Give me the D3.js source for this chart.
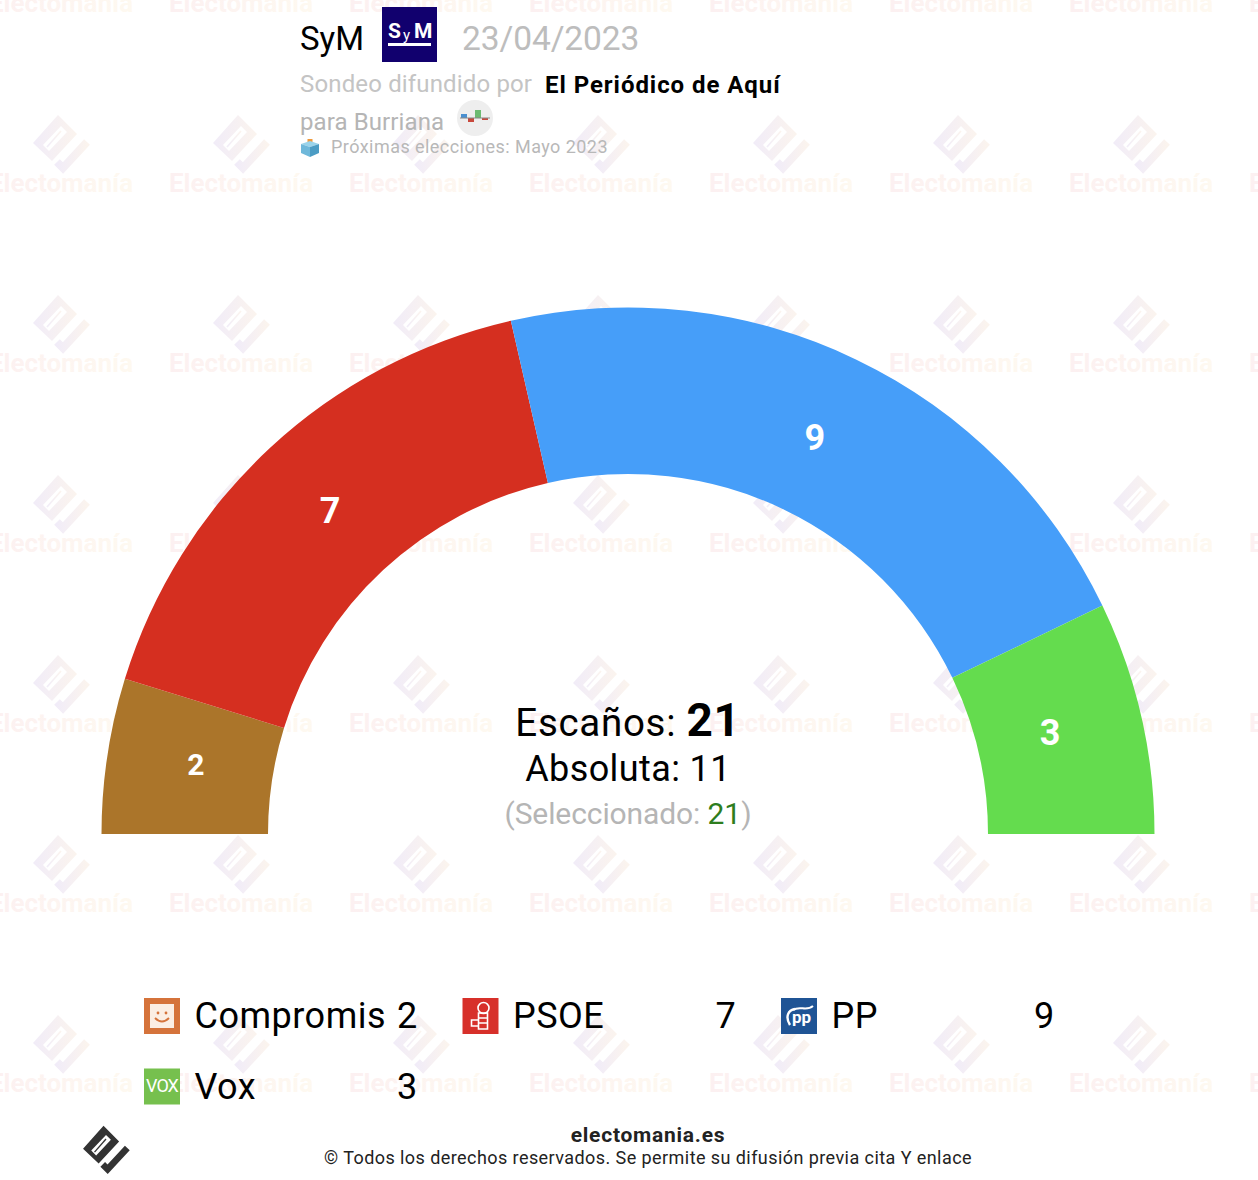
<!DOCTYPE html>
<html>
<head>
<meta charset="utf-8">
<script src="https://cdn.jsdelivr.net/npm/d3@7"></script>
<style>
  html, body { margin: 0; padding: 0; background: #fff; }
  svg { display: block; }
  text { font-family: Roboto, sans-serif; }
</style>
</head>
<body>
<svg id="chart"></svg>
<script>
const parties = ["Compromis", "PSOE", "PP", "Vox"];
const seats = [2, 7, 9, 3];
const arcColors = ["#ab752a", "#d52f20", "#469ef9", "#64dc4e"];
const logoColors = ["#d5733b", "#d7302a", "#1f5495", "#76c04e"];

const width = 1258;
const height = 1180;
const cx = 628;
const cy = 834;

const svg = d3.select("#chart").attr("width", width).attr("height", height);
const defs = svg.append("defs");

// watermark gradients
const addGradient = (id, from, to) => {
    const g = defs.append("linearGradient").attr("id", id);
    g.append("stop").attr("offset", "0%").attr("stop-color", from);
    g.append("stop").attr("offset", "100%").attr("stop-color", to);
};
addGradient("wmIcon", "#f1ecf8", "#fbf4ee");
addGradient("wmText", "#fcf0f1", "#fef9f0");

// the electomania mark, centred on 0,0
const drawMark = (g, fill) => {
    g.append("path")
        .attr("fill-rule", "evenodd")
        .attr("fill", fill)
        .attr("d", "M-28,1 L-3,-27 L16,-8 L-9,19 Z M-18,3 L0,-16 L6,-10 L-12,9 Z");
    g.append("path")
        .attr("fill", "none")
        .attr("stroke", fill)
        .attr("stroke-width", 1.6)
        .attr("d", "M-14,5 L0,-11");
    g.append("path")
        .attr("fill", "none")
        .attr("stroke", fill)
        .attr("stroke-width", 8)
        .attr("d", "M-4,20 L2,26 L26,0");
};

// watermark tiles
const wmCols = d3.range(61, 1322, 180);
const wmRows = d3.range(3, 1084, 180);
const wm = svg.append("g");
wmRows.forEach(y => wmCols.forEach(x => {
    const tile = wm.append("g").attr("transform", `translate(${x},${y})`);
    drawMark(tile.append("g").attr("transform", "translate(0,-41)"), "url(#wmIcon)");
    tile.append("text")
        .attr("x", 0).attr("y", 8.5)
        .attr("text-anchor", "middle")
        .attr("font-size", 26)
        .attr("font-weight", 700)
        .attr("fill", "url(#wmText)")
        .text("Electomanía");
}));

// gauge
const pie = d3.pie().sort(null).startAngle(-Math.PI / 2).endAngle(Math.PI / 2);
const arc = d3.arc().innerRadius(360).outerRadius(526.5);
const labelArc = d3.arc().innerRadius(435).outerRadius(435);
const gauge = svg.append("g").attr("transform", `translate(${cx},${cy})`);
const slices = pie(seats);

gauge.selectAll("path")
    .data(slices)
    .enter()
    .append("path")
    .attr("d", arc)
    .attr("fill", (d, i) => arcColors[i]);

gauge.selectAll("text")
    .data(slices)
    .enter()
    .append("text")
    .attr("transform", d => `translate(${labelArc.centroid(d)})`)
    .attr("text-anchor", "middle")
    .attr("dx", -2)
    .attr("dy", "0.21em")
    .attr("font-weight", 700)
    .attr("font-size", d => d.data < 3 ? 30 : 36)
    .attr("fill", "#fff")
    .text(d => d.data);

// centre text
const centre1 = svg.append("text").attr("x", cx).attr("y", 735.5).attr("text-anchor", "middle")
    .attr("font-size", 38.5).attr("letter-spacing", 0.7).attr("fill", "#000");
centre1.append("tspan").text("Escaños: ");
centre1.append("tspan").attr("font-weight", 700).attr("font-size", 46).text(d3.sum(seats));

svg.append("text").attr("x", cx).attr("y", 780.5).attr("text-anchor", "middle")
    .attr("font-size", 36).attr("letter-spacing", 0.4).attr("fill", "#000")
    .text("Absoluta: 11");

const centre3 = svg.append("text").attr("x", cx).attr("y", 824).attr("text-anchor", "middle")
    .attr("font-size", 30).attr("letter-spacing", -0.1).attr("fill", "#b5b5b5");
centre3.append("tspan").text("(Seleccionado: ");
centre3.append("tspan").attr("fill", "#2e7d1e").text(d3.sum(seats));
centre3.append("tspan").text(")");

// header
svg.append("text").attr("x", 300).attr("y", 49.5).attr("font-size", 33).attr("fill", "#000").text("SyM");

const sym = svg.append("g").attr("transform", "translate(382,7)");
sym.append("rect").attr("width", 55).attr("height", 55).attr("fill", "#11006e");
sym.append("text").attr("x", 6).attr("y", 31).attr("font-size", 21).attr("font-weight", 700).attr("fill", "#fff").text("S");
sym.append("text").attr("x", 21).attr("y", 33).attr("font-size", 15).attr("fill", "#fff").text("y");
sym.append("text").attr("x", 32).attr("y", 31).attr("font-size", 21).attr("font-weight", 700).attr("fill", "#fff").text("M");
sym.append("rect").attr("x", 6).attr("y", 36).attr("width", 43).attr("height", 3).attr("fill", "#fff");

svg.append("text").attr("x", 462).attr("y", 50).attr("font-size", 33.5).attr("letter-spacing", -0.1).attr("fill", "#bdbdbd").text("23/04/2023");
svg.append("text").attr("x", 300).attr("y", 92).attr("font-size", 24).attr("letter-spacing", 0.15).attr("fill", "#c4c4c4").text("Sondeo difundido por");
svg.append("text").attr("x", 545).attr("y", 93).attr("font-size", 24).attr("font-weight", 700).attr("letter-spacing", 0.95).attr("fill", "#000").text("El Periódico de Aquí");
svg.append("text").attr("x", 300).attr("y", 130).attr("font-size", 24).attr("letter-spacing", 0.1).attr("fill", "#b5b5b5").text("para Burriana");

// little swing chart badge
const badge = svg.append("g").attr("transform", "translate(475,118)");
badge.append("circle").attr("r", 18).attr("fill", "#eeeeee");
badge.append("rect").attr("x", -14).attr("y", -4).attr("width", 6).attr("height", 4).attr("fill", "#4a90d0");
badge.append("rect").attr("x", -7).attr("y", 0).attr("width", 6).attr("height", 4).attr("fill", "#c8483c");
badge.append("rect").attr("x", 0).attr("y", -8).attr("width", 6).attr("height", 8).attr("fill", "#6cbb72");
badge.append("rect").attr("x", 7).attr("y", 0).attr("width", 6).attr("height", 2).attr("fill", "#c8483c");
badge.append("rect").attr("x", -15).attr("y", -0.5).attr("width", 30).attr("height", 1).attr("fill", "#888");

// ballot box
const ballot = svg.append("g").attr("transform", "translate(310,148)");
ballot.append("rect").attr("x", -2.5).attr("y", -9).attr("width", 5).attr("height", 6).attr("fill", "#ef9a3c");
ballot.append("path").attr("d", "M-9,-4 L0,-7 L9,-4 L0,-1 Z").attr("fill", "#9ad3ea");
ballot.append("path").attr("d", "M-9,-4 L0,-1 L0,9 L-9,5 Z").attr("fill", "#6fb8da");
ballot.append("path").attr("d", "M9,-4 L0,-1 L0,9 L9,5 Z").attr("fill", "#4b9cc4");

svg.append("text").attr("x", 331).attr("y", 153).attr("font-size", 18).attr("letter-spacing", 0.45).attr("fill", "#b8b8b8").text("Próximas elecciones: Mayo 2023");

// legend
const legendX = d3.scaleOrdinal().domain([0, 1, 2]).range([144, 462.5, 781]);
const legendY = d3.scaleOrdinal().domain([0, 1]).range([998, 1068.5]);

const drawLogo = (g, i) => {
    g.append("rect").attr("width", 36).attr("height", 36).attr("fill", logoColors[i]);
    if (i === 0) {
        g.append("rect").attr("x", 6).attr("y", 6).attr("width", 24).attr("height", 24).attr("fill", "#fbeee4");
        g.append("path").attr("d", "M11,20 Q18,27 25,20").attr("fill", "none").attr("stroke", "#d5733b").attr("stroke-width", 1.8);
        g.append("circle").attr("cx", 14).attr("cy", 15).attr("r", 1.4).attr("fill", "#d5733b");
        g.append("circle").attr("cx", 22).attr("cy", 15).attr("r", 1.4).attr("fill", "#d5733b");
    } else if (i === 1) {
        g.append("circle").attr("cx", 21).attr("cy", 10).attr("r", 5.5).attr("fill", "none").attr("stroke", "#fff").attr("stroke-width", 1.6);
        g.append("path").attr("d", "M16,15 H25 V31 H16 Z M9,22 H16 V28 H9 Z M16,20 H25 M16,25 H25").attr("fill", "none").attr("stroke", "#fff").attr("stroke-width", 1.6);
    } else if (i === 2) {
        g.append("path").attr("d", "M9,27 C4,19 7,12 14,11").attr("fill", "none").attr("stroke", "#fff").attr("stroke-width", 2.4);
        g.append("path").attr("d", "M12,12 C19,7 25,14 32,8").attr("fill", "none").attr("stroke", "#fff").attr("stroke-width", 2);
        g.append("text").attr("x", 11).attr("y", 25).attr("font-size", 17).attr("font-weight", 700).attr("fill", "#fff").text("pp");
    } else {
        g.append("text").attr("x", 18).attr("y", 23.5).attr("text-anchor", "middle").attr("font-size", 18).attr("letter-spacing", -1).attr("fill", "#fff").text("VOX");
    }
};

parties.forEach((name, i) => {
    const g = svg.append("g")
        .attr("transform", `translate(${legendX(i % 3)},${legendY(Math.floor(i / 3))})`);
    drawLogo(g, i);
    g.append("text").attr("x", 50.5).attr("y", 30).attr("font-size", 36).attr("letter-spacing", 0.5).attr("fill", "#000").text(name);
    g.append("text").attr("x", 253).attr("y", 30).attr("font-size", 36).attr("fill", "#000").text(seats[i]);
});

// footer
drawMark(svg.append("g").attr("transform", "translate(106,1148) scale(0.82)"), "#333");
svg.append("text").attr("x", 648).attr("y", 1142).attr("text-anchor", "middle").attr("font-size", 21).attr("font-weight", 700).attr("letter-spacing", 0.75).attr("fill", "#222").text("electomania.es");
svg.append("text").attr("x", 648).attr("y", 1164).attr("text-anchor", "middle").attr("font-size", 18).attr("letter-spacing", 0.43).attr("fill", "#222").text("© Todos los derechos reservados. Se permite su difusión previa cita Y enlace");
</script>
</body>
</html>
